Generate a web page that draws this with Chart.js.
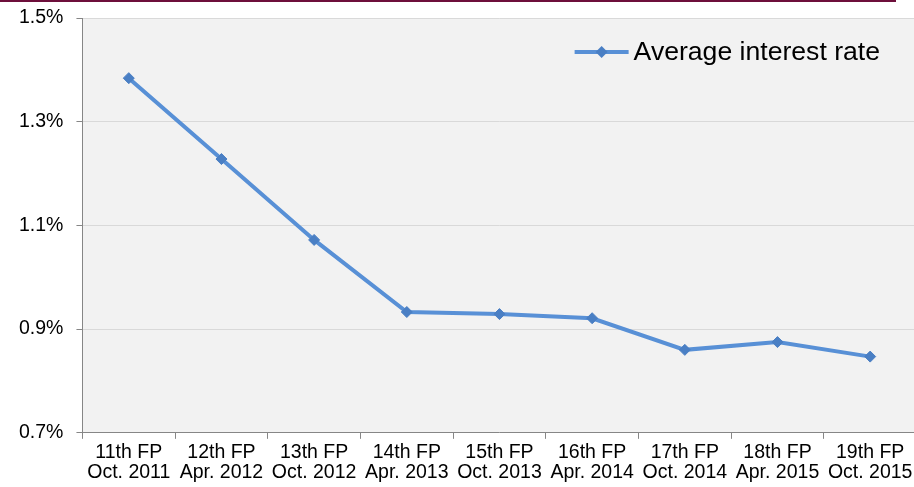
<!DOCTYPE html>
<html>
<head>
<meta charset="utf-8">
<script src="https://cdn.jsdelivr.net/npm/chart.js@4.4.1/dist/chart.umd.min.js"></script>
<style>
  html, body { margin: 0; padding: 0; background: #ffffff; overflow: hidden; }
  #topline { position: absolute; left: 0; top: 0; width: 896px; height: 2px; background: #6d0f3b; }
  #wrap { position: absolute; left: 0; top: 0; width: 923px; height: 487px; }
</style>
</head>
<body>
<div id="wrap"><canvas id="chart-rate"></canvas></div>
<div id="topline"></div>
<script>
// ---------------- data ----------------
const periods = ['11th FP', '12th FP', '13th FP', '14th FP', '15th FP', '16th FP', '17th FP', '18th FP', '19th FP'];
const dates = ['Oct. 2011', 'Apr. 2012', 'Oct. 2012', 'Apr. 2013', 'Oct. 2013', 'Apr. 2014', 'Oct. 2014', 'Apr. 2015', 'Oct. 2015'];
const avgRate = [1.384, 1.228, 1.072, 0.933, 0.929, 0.921, 0.860, 0.875, 0.847];
const seriesName = 'Average interest rate';
const yMin = 0.7, yMax = 1.5, yStep = 0.2;

const lineColor = '#5890d6';
const markColor = '#4a7fc4';
const fontFamily = '"Liberation Sans", Arial, sans-serif';

// grey plot background
const plotBg = {
    id: 'plotBg',
    beforeDraw(chart) {
        const a = chart.chartArea, ctx = chart.ctx;
        ctx.save();
        ctx.fillStyle = '#f2f2f2';
        ctx.fillRect(a.left, a.top, a.right - a.left, a.bottom - a.top);
        ctx.restore();
    }
};

// legend drawn inside the plot, top right (line + diamond + text)
const insideLegend = {
    id: 'insideLegend',
    afterDraw(chart) {
        const a = chart.chartArea, ctx = chart.ctx;
        const ds = chart.data.datasets[0];
        ctx.save();
        ctx.font = '26.6px ' + fontFamily;
        const tw = ctx.measureText(ds.label).width;
        const tx = 880 - tw;
        const ty = a.top + 34;
        ctx.strokeStyle = lineColor;
        ctx.lineWidth = 4;
        ctx.beginPath();
        ctx.moveTo(tx - 59, ty);
        ctx.lineTo(tx - 5, ty);
        ctx.stroke();
        const cx = tx - 32;
        ctx.fillStyle = markColor;
        ctx.beginPath();
        ctx.moveTo(cx - 6, ty);
        ctx.lineTo(cx, ty - 6);
        ctx.lineTo(cx + 6, ty);
        ctx.lineTo(cx, ty + 6);
        ctx.closePath();
        ctx.fill();
        ctx.fillStyle = '#000000';
        ctx.textBaseline = 'middle';
        ctx.textAlign = 'left';
        ctx.fillText(ds.label, tx, ty + 1);
        ctx.restore();
    }
};

var ctx_rate = document.getElementById('chart-rate').getContext('2d');
var chart_rate = new Chart(ctx_rate, {
    type: 'line',
    data: {
        labels: periods.map((p, i) => [p, dates[i]]),
        datasets: [{
            label: seriesName,
            data: avgRate,
            borderColor: lineColor,
            backgroundColor: markColor,
            borderWidth: 4,
            pointStyle: 'rectRot',
            pointRadius: 5.5,
            pointBorderWidth: 1,
            pointBorderColor: markColor,
            pointBackgroundColor: markColor,
            tension: 0,
            fill: false
        }]
    },
    options: {
        responsive: true,
        maintainAspectRatio: false,
        animation: false,
        devicePixelRatio: 1,
        layout: { padding: { top: 18, left: 6, right: 0, bottom: 0 } },
        plugins: {
            legend: { display: false },
            tooltip: { enabled: false }
        },
        scales: {
            x: {
                offset: true,
                grid: {
                    offset: true,
                    drawOnChartArea: false,
                    tickColor: '#868686',
                    tickLength: 6
                },
                border: { color: '#868686', width: 1 },
                ticks: {
                    color: '#000000',
                    font: { family: fontFamily, size: 19.5, lineHeight: 1.03 },
                    padding: 4,
                    maxRotation: 0,
                    autoSkip: false
                }
            },
            y: {
                min: yMin,
                max: yMax,
                afterFit: function (scale) {
                    // keep the tick padding from pushing the plot down
                    scale.paddingTop = 0;
                    scale.paddingBottom = 0;
                },
                grid: {
                    color: '#d9d9d9',
                    tickColor: '#868686',
                    tickLength: 6
                },
                border: { color: '#868686', width: 1 },
                ticks: {
                    stepSize: yStep,
                    color: '#000000',
                    font: { family: fontFamily, size: 19.5 },
                    padding: 13,
                    callback: v => v.toFixed(1) + '%'
                }
            }
        }
    },
    plugins: [plotBg, insideLegend]
});
</script>
</body>
</html>
